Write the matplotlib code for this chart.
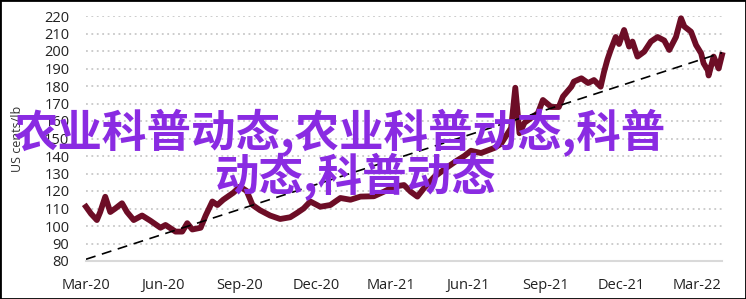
import numpy as np
import pandas as pd
import matplotlib
matplotlib.use("Agg")
from matplotlib import pyplot as plt
import matplotlib.dates as mdates

# price series (US cents/lb)
dates = ["2020-03-01", "2020-03-07", "2020-03-14", "2020-03-18", "2020-03-24", "2020-03-30",
         "2020-04-05", "2020-04-13", "2020-04-19", "2020-04-27", "2020-05-07", "2020-05-17",
         "2020-05-29", "2020-06-04", "2020-06-16", "2020-06-24", "2020-06-30", "2020-07-06",
         "2020-07-16", "2020-07-22", "2020-07-30", "2020-08-05", "2020-08-12", "2020-08-24",
         "2020-09-01", "2020-09-09", "2020-09-16", "2020-09-25", "2020-10-07", "2020-10-19",
         "2020-10-31", "2020-11-08", "2020-11-16", "2020-11-24", "2020-12-06", "2020-12-18",
         "2020-12-30", "2021-01-11", "2021-01-23", "2021-02-08", "2021-02-20", "2021-03-04",
         "2021-03-16", "2021-03-24", "2021-04-01", "2021-04-09", "2021-04-21", "2021-05-05",
         "2021-05-17", "2021-05-27", "2021-06-04", "2021-06-16", "2021-07-02", "2021-07-10",
         "2021-07-18", "2021-07-22", "2021-07-27", "2021-08-01", "2021-08-07", "2021-08-23",
         "2021-08-29", "2021-09-08", "2021-09-17", "2021-09-22", "2021-10-02", "2021-10-05",
         "2021-10-14", "2021-10-22", "2021-10-29", "2021-11-06", "2021-11-10", "2021-11-14",
         "2021-11-18", "2021-11-24", "2021-11-28", "2021-12-04", "2021-12-10", "2021-12-14",
         "2021-12-20", "2021-12-28", "2022-01-05", "2022-01-13", "2022-01-21", "2022-01-27",
         "2022-02-04", "2022-02-10", "2022-02-14", "2022-02-22", "2022-02-28", "2022-03-06",
         "2022-03-09", "2022-03-14", "2022-03-15", "2022-03-21", "2022-03-27", "2022-03-31"]
prices = [111, 107, 103.4, 108, 116.7, 108,
          110, 113, 108, 103.4, 106, 103,
          99, 100.6, 96.8, 96.8, 101.6, 98,
          99, 106, 114, 112, 115, 119,
          122.5, 120, 112, 109, 106, 104,
          105, 107.4, 110, 114, 111, 112,
          116, 115, 116.8, 117, 119.6, 122.5,
          123.4, 119.6, 116.8, 121.7, 128, 133,
          137, 140, 143, 141.7, 144.6, 147,
          153, 156, 179, 153, 159, 164.5,
          172, 168, 168, 174, 179.6, 182.5,
          184.4, 181.7, 183.4, 179.6, 188, 195,
          200.6, 208, 204, 212, 202.5, 205.4,
          196.8, 199.6, 205.4, 208, 206, 200.6,
          208, 218.7, 214, 211, 203.4, 198.7,
          193, 189, 186, 196.8, 190, 197.7]

trend_dates = ["2020-03-01", "2022-03-31"]
trend_vals = [81, 199]

yticks = [80, 90, 100, 110, 120, 130, 140, 150, 160, 170, 180, 190, 200, 210, 220]
xtick_dates = ["2020-03-01", "2020-06-01", "2020-09-01", "2020-12-01", "2021-03-01",
               "2021-06-01", "2021-09-01", "2021-12-01", "2022-03-01"]
xtick_labels = ["Mar-20", "Jun-20", "Sep-20", "Dec-20", "Mar-21",
                "Jun-21", "Sep-21", "Dec-21", "Mar-22"]

overlay1 = "农业科普动态,农业科普动态,科普"
overlay2 = "动态,科普动态"

fig = plt.figure(figsize=(7.46, 2.99), dpi=100)
ax = fig.add_axes([86/746, 1 - 261/299, (722-86)/746, (261-16)/299])

d = pd.to_datetime(dates)
ax.plot(d, prices, color="#6d0d26", lw=4.2, solid_joinstyle="round", zorder=3, clip_on=False)
ax.plot(pd.to_datetime(trend_dates), trend_vals, color="black", lw=1.2,
        dashes=(6, 4), zorder=4)

ax.set_xlim(pd.Timestamp("2020-03-01"), pd.Timestamp("2022-03-31"))
ax.set_ylim(80, 220)
ax.set_yticks(yticks)
ax.set_xticks(pd.to_datetime(xtick_dates))
ax.set_xticklabels(xtick_labels)

for s in ["top", "right", "left"]:
    ax.spines[s].set_visible(False)
ax.spines["bottom"].set_color("#d9d9d9")
ax.spines["bottom"].set_linewidth(1.5)

ax.yaxis.grid(True, color="#c8c8c8", lw=1.3, linestyle=(0, (1, 2)))
ax.set_axisbelow(True)
ax.tick_params(axis="both", length=0, labelsize=10.5, labelcolor="#222222")
ax.tick_params(axis="y", pad=12)
ax.tick_params(axis="x", pad=12)
for lab in ax.get_xticklabels() + ax.get_yticklabels():
    lab.set_family(["Open Sans", "DejaVu Sans"])

ax.set_ylabel("US cents/lb", fontsize=9, color="#333333", family=["Open Sans", "DejaVu Sans"])
ax.yaxis.set_label_coords(-62/636, 0.5)

# big purple overlay text
fig.text(340/746, 1 - 133/299, overlay1, color="#8a2be2", fontsize=32, fontweight="bold",
         ha="center", va="center", family=["Noto Sans CJK SC", "DejaVu Sans"], zorder=10)
fig.text(356/746, 1 - 177/299, overlay2, color="#8a2be2", fontsize=32, fontweight="bold",
         ha="center", va="center", family=["Noto Sans CJK SC", "DejaVu Sans"], zorder=10)

fig.patches.append(plt.Rectangle((0, 0), 1, 1, transform=fig.transFigure, fill=False,
                                 edgecolor="black", lw=2))

fig.savefig("out.png", dpi=100)
